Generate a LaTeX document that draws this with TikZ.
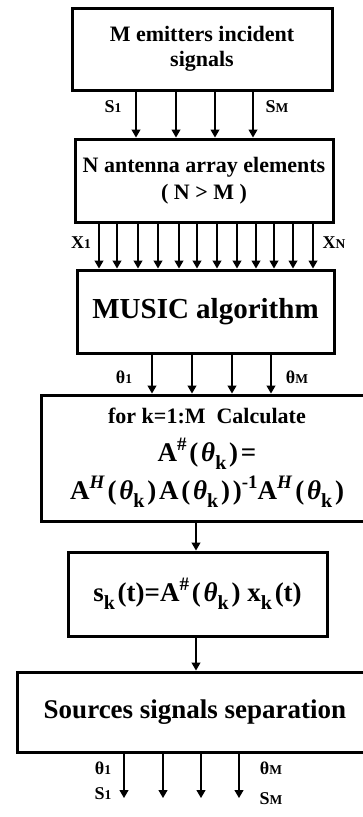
\documentclass[tikz,border=0pt]{standalone}
\usepackage{fontspec}
\setmainfont{Liberation Serif}
\usetikzlibrary{arrows.meta}
\newcommand{\mysub}[1]{\raisebox{-0.3em}{\fontsize{20}{20}\selectfont #1}}
\newcommand{\mysup}[1]{\raisebox{0.42em}{\fontsize{19}{19}\selectfont #1}}
\newcommand{\gp}{\hspace{2.8pt}}
\newcommand{\thk}{(\gp\textit{θ}\mysub{k}\gp)}
\newcommand{\lbl}[2]{#1{\fontsize{13.5}{13.5}\selectfont #2}}
\begin{document}
\begin{tikzpicture}[x=1pt,y=-1pt,
  box/.style={draw, line width=3pt, align=center, inner sep=0pt},
  arr/.style={line width=1.1pt, -{Triangle[length=8pt,width=9pt]}},
  lab/.style={font=\bfseries\fontsize{18}{18}\selectfont, inner sep=0pt}]
\useasboundingbox (0,0) rectangle (363,817);
\fill[white] (0,0) rectangle (363,817);

% boxes
\node[box, minimum width=260pt, minimum height=82pt,
  font=\bfseries\fontsize{22}{25}\selectfont] (b1) at (202,49)
  {M emitters incident\\signals};
\node[box, minimum width=258pt, minimum height=83pt,
  font=\bfseries\fontsize{22}{27}\selectfont] (b2) at (204,180.5)
  {N antenna array elements\\( N > M )};
\node[box, minimum width=257pt, minimum height=83pt,
  font=\bfseries\fontsize{29}{32}\selectfont] (b3) at (205.5,311.5)
  {MUSIC algorithm};
\node[box, minimum width=330.5pt, minimum height=126pt,
  font=\bfseries\fontsize{27}{38}\selectfont] (b4) at (207,458)
  {{\fontsize{22}{25}\selectfont for k=1:M\ \ Calculate}\\
   A\mysup{\#}\gp\thk\gp=\\
   A\mysup{\textit{H}}\gp\thk\gp A\gp\thk\gp)\mysup{-1}A\mysup{\textit{H}}\gp\thk};
\node[box, minimum width=259pt, minimum height=84pt,
  font=\bfseries\fontsize{27}{30}\selectfont] (b5) at (197.5,594)
  {\raisebox{3pt}{s\mysub{k}\gp(t)=A\mysup{\#}\gp\thk\ x\mysub{k}\gp(t)}};
\node[box, minimum width=356pt, minimum height=80pt,
  font=\bfseries\fontsize{27}{30}\selectfont] (b6) at (195,712)
  {Sources signals separation};

% arrows b1 -> b2
\foreach \x in {136,176,215,253}
  \draw[arr] (\x,0 |- b1.south) -- (\x,0 |- b2.north);
% arrows b2 -> b3
\foreach \x in {99,117,138,158,179,197,217,237,256,274,293,313}
  \draw[arr] (\x,0 |- b2.south) -- (\x,0 |- b3.north);
% arrows b3 -> b4
\foreach \x in {152,192,232,271}
  \draw[arr] (\x,0 |- b3.south) -- (\x,0 |- b4.north);
\draw[arr] (196,0 |- b4.south) -- (196,0 |- b5.north);
\draw[arr] (196,0 |- b5.south) -- (196,0 |- b6.north);
% output arrows
\foreach \x [count=\i] in {124,163,201,239} {
  \coordinate (o\i) at (\x,798);
  \draw[arr] (\x,0 |- b6.south) -- (o\i);
}

% labels
\node[lab] (s1) at (113,107) {\lbl{S}{1}};
\node[lab] (sm) at (277,107) {\lbl{S}{M}};
\node[lab] (x1) at (81,243) {\lbl{X}{1}};
\node[lab] (xn) at (334,243) {\lbl{X}{N}};
\node[lab] (t1) at (124,377) {\lbl{θ}{1}};
\node[lab] (tm) at (297,377) {\lbl{θ}{M}};
\node[lab] (bt1) at (103,768) {\lbl{θ}{1}};
\node[lab] (bs1) at (103,794) {\lbl{S}{1}};
\node[lab] (btm) at (271,768) {\lbl{θ}{M}};
\node[lab] (bsm) at (271,799) {\lbl{S}{M}};
\end{tikzpicture}
\end{document}
